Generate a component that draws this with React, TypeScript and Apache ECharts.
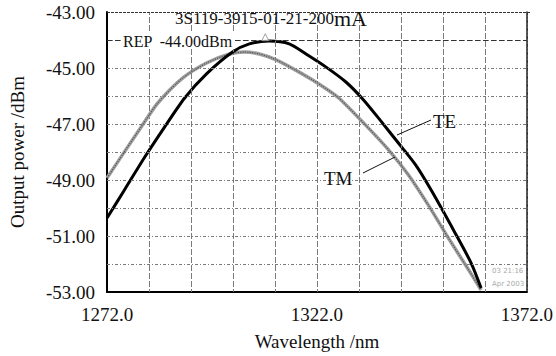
import React, { useEffect, useRef } from "react";
import * as echarts from "echarts";

const X_MIN = 1272;
const X_MAX = 1372;
const X_STEP = 10;
const X_LABELS = [1272, 1322, 1372];
const X_GRID = [1282, 1292, 1302, 1312, 1322, 1332, 1342, 1352, 1362];
const Y_MIN = -53;
const Y_MAX = -43;
const Y_STEP = 1;
const Y_GRID = [-52, -51, -50, -49, -48, -47, -46, -45];

const teWavelength = [1272.0, 1276.3, 1281.0, 1285.7, 1290.5, 1295.7, 1301.9, 1305.9, 1310.6, 1315.4, 1319.4, 1324.1, 1328.9, 1333.1, 1337.2, 1341.4, 1345.5, 1349.2, 1354.9, 1358.7, 1361.1];
const tePower = [-50.36, -49.32, -48.18, -47.11, -46.07, -45.21, -44.43, -44.14, -44.04, -44.14, -44.5, -44.96, -45.5, -46.14, -46.89, -47.68, -48.46, -49.36, -50.89, -51.96, -52.86];

const tmWavelength = [1272.0, 1276.3, 1280.3, 1284.1, 1290.0, 1295.7, 1301.2, 1304.7, 1308.3, 1312.3, 1318.5, 1323.2, 1327.2, 1333.6, 1339.1, 1343.8, 1348.5, 1353.3, 1358.0, 1361.1];
const tmPower = [-48.93, -47.96, -47.07, -46.25, -45.36, -44.82, -44.5, -44.43, -44.5, -44.71, -45.21, -45.64, -46.07, -47.04, -47.93, -48.82, -49.89, -51.07, -52.18, -52.93];

const peakMarker = [[1309.7, -43.9]];
const REF_LEVEL = -44;

const FONT = "'Liberation Serif', 'Times New Roman', serif";
const GRID = { left: 107, right: 26, top: 12, bottom: 64 };

export default function App() {
  const ref = useRef<HTMLDivElement>(null);
  useEffect(() => {
    document.body.style.margin = "0";
    const chart = echarts.init(ref.current!, null, { renderer: "svg" });
    const toX = (w: number) => w - X_MIN;
    const te = teWavelength.map((w, i) => [toX(w), tePower[i]]);
    const tm = tmWavelength.map((w, i) => [toX(w), tmPower[i]]);
    const peak = peakMarker.map(([w, p]) => [toX(w), p]);
    const gridStyle = { color: "#7a7a7a", width: 1, type: [3, 2, 1, 2] };
    const gridLines = [
      ...X_GRID.map((w) => ({ xAxis: toX(w), lineStyle: gridStyle })),
      ...Y_GRID.map((v) => ({ yAxis: v, lineStyle: gridStyle })),
    ];
    const W = 556;
    chart.setOption({
      animation: false,
      backgroundColor: "#fff",
      grid: GRID,
      xAxis: {
        type: "value",
        min: 0,
        max: X_MAX - X_MIN,
        interval: X_STEP,
        name: "Wavelength /nm",
        nameLocation: "middle",
        nameGap: 40,
        nameTextStyle: { fontFamily: FONT, fontSize: 19, color: "#111" },
        axisLine: { show: true, onZero: false, lineStyle: { color: "#000", width: 2 } },
        axisTick: { show: false },
        splitLine: { show: true, lineStyle: gridStyle },
        axisLabel: {
          fontFamily: FONT,
          fontSize: 19,
          color: "#111",
          margin: 13,
          formatter: (v: number) => {
            const w = Math.round(v + X_MIN);
            return X_LABELS.includes(w) ? w.toFixed(1) : "";
          },
        },
      },
      yAxis: [
        {
          type: "value",
          min: Y_MIN,
          max: Y_MAX,
          interval: Y_STEP,
          name: "Output power /dBm",
          nameLocation: "middle",
          nameGap: 80,
          nameTextStyle: { fontFamily: FONT, fontSize: 19, color: "#111" },
          axisLine: { show: true, onZero: false, lineStyle: { color: "#000", width: 2 } },
          axisTick: { show: false },
          splitLine: { show: true, lineStyle: gridStyle },
          axisLabel: {
            fontFamily: FONT,
            fontSize: 19,
            color: "#111",
            margin: 12,
            padding: [5, 0, 0, 0],
            formatter: (v: number) => (Math.round(v) % 2 !== 0 ? v.toFixed(2) : ""),
          },
        },
        {
          type: "value",
          position: "right",
          min: Y_MIN,
          max: Y_MAX,
          axisLine: { show: true, onZero: false, lineStyle: { color: "#222", width: 1.5 } },
          axisTick: { show: false },
          axisLabel: { show: false },
          splitLine: { show: false },
        },
      ],
      series: [
        {
          type: "line",
          data: tm,
          showSymbol: false,
          silent: true,
          lineStyle: { opacity: 0, width: 0 },
          z: 1,
          markLine: {
            silent: true,
            symbol: "none",
            label: { show: false },
            data: gridLines,
          },
        },
        {
          type: "line",
          data: tm,
          smooth: 0.25,
          showSymbol: false,
          lineStyle: { color: "#a0a0a0", width: 3.5 },
          z: 2,
        },
        {
          type: "line",
          data: tm,
          smooth: 0.25,
          showSymbol: false,
          lineStyle: { color: "#555", width: 1.2, type: "dotted" },
          z: 3,
        },
        {
          type: "line",
          data: te,
          smooth: 0.25,
          showSymbol: false,
          lineStyle: { color: "#000", width: 3 },
          z: 4,
          markLine: {
            silent: true,
            symbol: "none",
            label: { show: false },
            lineStyle: { color: "#333", width: 1, type: [5, 3] },
            data: [{ yAxis: REF_LEVEL }],
          },
        },
        {
          type: "scatter",
          data: peak,
          symbol: "triangle",
          symbolSize: 7,
          itemStyle: { color: "#fff", borderColor: "#888", borderWidth: 1 },
          z: 5,
        },
      ],
      graphic: [
        {
          type: "line",
          z: 10,
          silent: true,
          shape: { x1: GRID.left, y1: GRID.top + 0.5, x2: W - GRID.right, y2: GRID.top + 0.5 },
          style: { stroke: "#333", lineWidth: 1, lineDash: [3, 1] },
        },
        {
          type: "text",
          x: 175,
          y: 29,
          z: 10,
          style: {
            text: "{a|3S119-3915-01-21-200}{b|mA}",
            verticalAlign: "bottom",
            rich: {
              a: { fontFamily: FONT, fontSize: 17, fill: "#111" },
              b: { fontFamily: FONT, fontSize: 22, fill: "#111" },
            },
          },
        },
        {
          type: "text",
          x: 122,
          y: 41,
          z: 10,
          style: {
            text: "REP  -44.00dBm",
            fontFamily: FONT,
            fontSize: 16,
            fill: "#111",
            verticalAlign: "middle",
            backgroundColor: "#fff",
            padding: [0, 2, 0, 1],
          },
        },
        { type: "line", z: 10, shape: { x1: 397, y1: 135, x2: 431, y2: 120 }, style: { stroke: "#111", lineWidth: 1 } },
        { type: "line", z: 10, shape: { x1: 363, y1: 173, x2: 395, y2: 157 }, style: { stroke: "#111", lineWidth: 1 } },
        {
          type: "text",
          x: 433,
          y: 121,
          z: 10,
          style: { text: "TE", fontFamily: FONT, fontSize: 19, fill: "#111", verticalAlign: "middle" },
        },
        {
          type: "text",
          x: 324,
          y: 178,
          z: 10,
          style: { text: "TM", fontFamily: FONT, fontSize: 19, fill: "#111", verticalAlign: "middle" },
        },
        {
          type: "text",
          x: 492,
          y: 271,
          z: 10,
          style: { text: "03 21:16", fontFamily: "DejaVu Sans", fontSize: 7, fill: "#aaa", verticalAlign: "middle" },
        },
        {
          type: "text",
          x: 492,
          y: 284,
          z: 10,
          style: { text: "Apr 2003", fontFamily: "DejaVu Sans", fontSize: 7, fill: "#aaa", verticalAlign: "middle" },
        },
      ],
    });
    return () => chart.dispose();
  }, []);
  return <div ref={ref} style={{ width: 556, height: 356 }} />;
}
